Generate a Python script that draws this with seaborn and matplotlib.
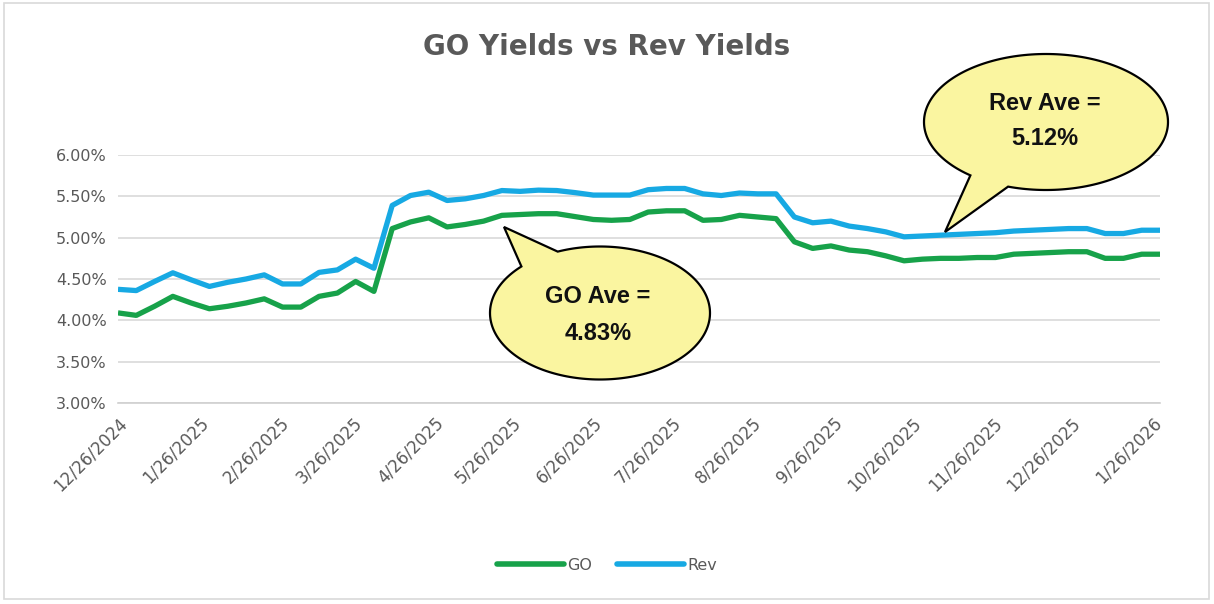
import numpy as np
import pandas as pd
import matplotlib
matplotlib.use("Agg")
import matplotlib.pyplot as plt
import matplotlib.dates as mdates
from matplotlib.ticker import FuncFormatter, MultipleLocator
from matplotlib.lines import Line2D
from matplotlib.patches import Polygon, Rectangle
import seaborn as sns

# ---------------- data ----------------
start_date = "2024-12-26"
n_weeks = 58
go_yields = [4.09, 4.06, 4.17, 4.29, 4.21, 4.14, 4.17, 4.21, 4.26, 4.16,
             4.16, 4.29, 4.33, 4.47, 4.35, 5.11, 5.19, 5.24, 5.13, 5.16,
             5.20, 5.27, 5.28, 5.29, 5.29, 5.255, 5.22, 5.21, 5.22, 5.31,
             5.325, 5.325, 5.21, 5.22, 5.27, 5.25, 5.23, 4.95, 4.87, 4.90,
             4.85, 4.83, 4.78, 4.72, 4.74, 4.75, 4.75, 4.76, 4.76, 4.80,
             4.81, 4.82, 4.83, 4.83, 4.75, 4.75, 4.80, 4.80]
rev_yields = [4.375, 4.36, 4.47, 4.575, 4.49, 4.41, 4.46, 4.50, 4.55, 4.44,
              4.44, 4.58, 4.61, 4.74, 4.63, 5.39, 5.51, 5.55, 5.45, 5.47,
              5.51, 5.57, 5.56, 5.575, 5.57, 5.545, 5.515, 5.515, 5.515, 5.58,
              5.595, 5.595, 5.53, 5.51, 5.54, 5.53, 5.53, 5.25, 5.18, 5.20,
              5.14, 5.11, 5.07, 5.01, 5.02, 5.03, 5.04, 5.05, 5.06, 5.08,
              5.09, 5.10, 5.11, 5.11, 5.05, 5.05, 5.09, 5.09]
series_names = ["GO", "Rev"]
series_colors = ["#17A24A", "#17A9E3"]
title = "GO Yields vs Rev Yields"
go_note = "GO Ave =\n4.83%"
rev_note = "Rev Ave =\n5.12%"

dates = pd.date_range(start_date, periods=n_weeks, freq="7D")
df = pd.concat([
    pd.DataFrame({"Date": dates, "Yield": go_yields, "Series": "GO"}),
    pd.DataFrame({"Date": dates, "Yield": rev_yields, "Series": "Rev"}),
])

# ---------------- figure ----------------
W, H = 1214, 604
sns.set_style("white")
plt.rcParams["font.family"] = ["DejaVu Sans"]
fig = plt.figure(figsize=(W / 100, H / 100), dpi=100)
fig.patch.set_facecolor("white")

ax = fig.add_axes([118 / W, 1 - 403 / H, (1160 - 118) / W, (403 - 155) / H])
sns.lineplot(data=df, x="Date", y="Yield", hue="Series", hue_order=series_names,
             palette=series_colors, linewidth=3.8, ax=ax, legend=False,
             solid_joinstyle="round", solid_capstyle="butt")

grey = "#595959"
ax.set_ylim(3.0, 6.0)
ax.set_xlim(dates[0], dates[-1])
ax.yaxis.set_major_locator(MultipleLocator(0.5))
ax.yaxis.set_major_formatter(FuncFormatter(lambda v, p: f"{v:.2f}%"))
ax.xaxis.set_major_locator(mdates.MonthLocator(bymonthday=26))
ax.xaxis.set_major_formatter(FuncFormatter(
    lambda v, p: (lambda d: f"{d.month}/{d.day}/{d.year}")(mdates.num2date(v))))
ax.grid(axis="y", color="#d9d9d9", linewidth=1.2)
ax.set_axisbelow(True)
for s in ["left", "right", "top"]:
    ax.spines[s].set_visible(False)
ax.spines["bottom"].set_color("#d0d0d0")
ax.spines["bottom"].set_linewidth(1.2)
ax.tick_params(axis="y", length=0, pad=8, labelsize=11.5, labelcolor=grey)
ax.tick_params(axis="x", length=5, width=1.1, color="#d0d0d0", direction="out",
               pad=3, labelsize=12, labelcolor=grey)
for lab in ax.get_xticklabels():
    lab.set_rotation(45)
    lab.set_ha("right")
    lab.set_rotation_mode("anchor")
ax.set_xlabel("")
ax.set_ylabel("")

fig.text(0.5, 1 - 47 / H, title, ha="center", va="center", fontsize=20,
         fontweight="bold", color=grey)

handles = [Line2D([0], [0], color=c, lw=4) for c in series_colors]
fig.legend(handles, series_names, loc="center", bbox_to_anchor=(0.5, 1 - 565 / H),
           ncol=2, frameon=False, fontsize=11.5, labelcolor=grey,
           handlelength=4.2, handletextpad=0.2, columnspacing=1.6)

# ---------------- callouts (pixel overlay) ----------------
ov = fig.add_axes([0, 0, 1, 1], zorder=10)
ov.set_xlim(0, W)
ov.set_ylim(H, 0)
ov.axis("off")
ov.patch.set_alpha(0)


def callout(cx, cy, a, b, tip, ang_from, ang_to):
    th = np.deg2rad(np.linspace(ang_from, ang_to, 200))
    pts = np.column_stack([cx + a * np.cos(th), cy + b * np.sin(th)])
    pts = np.vstack([pts, tip])
    ov.add_patch(Polygon(pts, closed=True, facecolor="#FAF5A0",
                         edgecolor="black", linewidth=1.6, joinstyle="miter"))


callout(600, 313, 110, 66.5, (504, 227), -112.6, 224.4)
callout(1046, 122, 122, 68, (945, 232), 128.3, 468.1)
note_font = ["Liberation Sans", "DejaVu Sans"]
ov.text(598, 315, go_note, ha="center", va="center", fontsize=17,
        fontweight="bold", family=note_font, linespacing=1.8, color="#111111")
ov.text(1045, 121, rev_note, ha="center", va="center", fontsize=17,
        fontweight="bold", family=note_font, linespacing=1.7, color="#111111")

ov.add_patch(Rectangle((4, 3), W - 9, H - 8, fill=False, edgecolor="#d9d9d9",
                       linewidth=1.2))

fig.savefig("out.png", dpi=100)
